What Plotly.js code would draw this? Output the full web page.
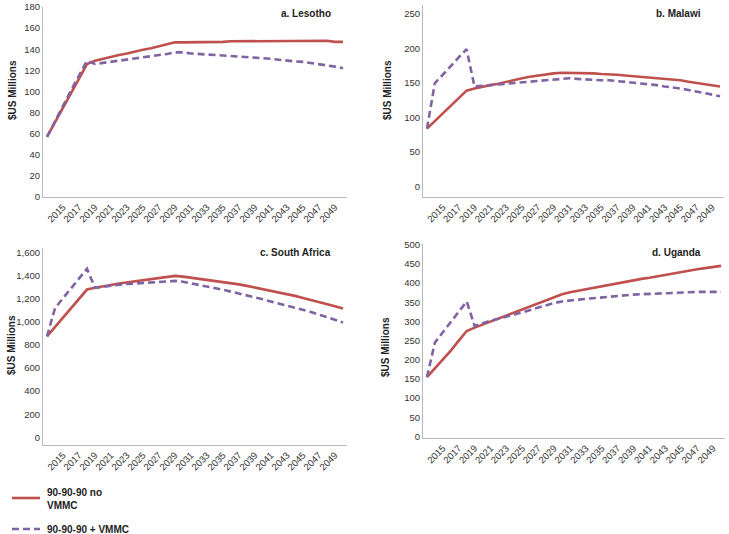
<!DOCTYPE html>
<html>
<head>
<meta charset="utf-8">
<script src="https://cdn.plot.ly/plotly-3.0.1.min.js"></script>
<style>
  html, body { margin: 0; padding: 0; background: #fff; }
  #plot { width: 729px; height: 534px; }
</style>
</head>
<body>
<div id="plot"></div>
<script>
// Years on the category axis
var years = [2013, 2014, 2015, 2016, 2017, 2018, 2019, 2020, 2021, 2022,
  2023, 2024, 2025, 2026, 2027, 2028, 2029, 2030, 2031, 2032,
  2033, 2034, 2035, 2036, 2037, 2038, 2039, 2040, 2041, 2042,
  2043, 2044, 2045, 2046, 2047, 2048, 2049, 2050];
var tickYears = [2015, 2017, 2019, 2021, 2023, 2025, 2027, 2029, 2031, 2033,
  2035, 2037, 2039, 2041, 2043, 2045, 2047, 2049];

var seriesNames = ["90-90-90 no<br>VMMC", "90-90-90 + VMMC"];

// a. Lesotho
var lesothoNo = [57, 71, 85, 99, 113, 126, 129, 131, 133, 134.5,
  136, 138, 139.5, 141, 143, 144.5, 146.5, 146.5, 146.5, 147,
  147, 147, 147, 147.5, 147.5, 147.5, 147.5, 147.5, 148, 148,
  148, 148, 148, 148, 148, 148, 147, 147];
var lesothoVmmc = [57, 72, 87, 101, 115, 129, 126, 127, 128, 129,
  130, 131, 132, 133, 134.5, 135.5, 137, 137, 136, 135.5,
  135.5, 135, 134.5, 134, 133.5, 133, 132.5, 132, 131, 130,
  129, 128.5, 128, 127, 126, 125, 123.5, 122];

// b. Malawi
var malawiNo = [84, 95, 107, 118, 129, 139, 142, 145, 147, 149,
  152, 154, 157, 159, 161, 163, 164, 165, 165, 164,
  164, 164, 163, 163, 162, 161, 160, 160, 159, 157,
  156, 155, 154, 152, 150, 148, 146, 145];
var malawiVmmc = [84, 150, 162, 175, 187, 199, 145, 146, 147, 148,
  149, 151, 152, 153, 154, 155, 156, 157, 157, 156,
  155, 155, 154, 154, 153, 152, 151, 150, 148, 147,
  145, 144, 142, 140, 138, 136, 134, 131];

// c. South Africa
var southAfricaNo = [875, 957, 1040, 1120, 1200, 1280, 1295, 1310, 1320, 1332,
  1342, 1350, 1360, 1370, 1380, 1390, 1398, 1392, 1383, 1375,
  1365, 1355, 1345, 1335, 1325, 1312, 1298, 1285, 1270, 1255,
  1240, 1225, 1207, 1190, 1172, 1155, 1135, 1115];
var southAfricaVmmc = [875, 1118, 1205, 1290, 1375, 1460, 1295, 1305, 1315, 1322,
  1328, 1332, 1336, 1340, 1345, 1350, 1355, 1348, 1335, 1320,
  1305, 1292, 1278, 1262, 1247, 1230, 1212, 1195, 1177, 1160,
  1143, 1125, 1107, 1085, 1063, 1040, 1018, 995];

// d. Uganda
var ugandaNo = [155, 178, 200, 224, 250, 275, 284, 292, 300, 307,
  314, 322, 331, 339, 347, 355, 364, 371, 376, 380,
  384, 388, 392, 396, 400, 404, 408, 411, 414, 418,
  422, 426, 429, 433, 436, 439, 442, 445];
var ugandaVmmc = [155, 245, 272, 298, 325, 352, 288, 296, 302, 307,
  312, 318, 324, 330, 336, 342, 348, 352, 355, 357,
  359, 361, 363, 365, 367, 368, 370, 371, 372, 373,
  374, 375, 376, 376, 377, 377, 377, 377];

var panels = [
  { title: "a. Lesotho", no: lesothoNo, vmmc: lesothoVmmc },
  { title: "b. Malawi", no: malawiNo, vmmc: malawiVmmc },
  { title: "c. South Africa", no: southAfricaNo, vmmc: southAfricaVmmc },
  { title: "d. Uganda", no: ugandaNo, vmmc: ugandaVmmc }
];

var W = 729, H = 534;
function px(x) { return x / W; }
function py(y) { return 1 - y / H; }

var red = "#c0504d";
var purple = "#8064a2";
var dashStyle = "7px,4px";

var data = [];
panels.forEach(function (p, i) {
  var sfx = i === 0 ? "" : String(i + 1);
  data.push({
    x: years, y: p.no, type: "scatter", mode: "lines",
    name: seriesNames[0], showlegend: false,
    xaxis: "x" + sfx, yaxis: "y" + sfx,
    line: { color: red, width: 2.6 }
  });
  data.push({
    x: years, y: p.vmmc, type: "scatter", mode: "lines",
    name: seriesNames[1], showlegend: false,
    xaxis: "x" + sfx, yaxis: "y" + sfx,
    line: { color: purple, width: 2.6, dash: dashStyle }
  });
});

var tickFont = { family: "Liberation Sans, Arial, sans-serif", size: 9.5, color: "#333" };

function xAxis(left, right, anchor) {
  return {
    domain: [px(left), px(right)],
    anchor: anchor,
    range: [2012.5, 2050.5],
    tickmode: "array", tickvals: tickYears,
    tickangle: -45, tickfont: tickFont,
    showgrid: false, zeroline: false,
    showline: true, linecolor: "#b8b8b8", linewidth: 1,
    ticks: "", fixedrange: true
  };
}
function yAxis(top, bottom, anchor, range, dtick, fmt) {
  return {
    domain: [py(bottom), py(top)],
    anchor: anchor,
    range: range, dtick: dtick, tick0: 0,
    tickformat: fmt, tickfont: tickFont,
    showgrid: false, zeroline: false,
    showline: true, linecolor: "#b8b8b8", linewidth: 1,
    ticks: "", fixedrange: true
  };
}

var titleFont = { family: "Liberation Sans, Arial, sans-serif", size: 10, color: "#222", weight: "bold" };

var annotations = [
  { text: "a. Lesotho", x: px(333), y: py(14), xanchor: "right" },
  { text: "b. Malawi", x: px(703), y: py(14), xanchor: "right" },
  { text: "c. South Africa", x: px(333), y: py(253), xanchor: "right" },
  { text: "d. Uganda", x: px(703), y: py(253), xanchor: "right" },
  { text: "$US Millions", x: px(13), y: py(90), textangle: -90 },
  { text: "$US Millions", x: px(388), y: py(90), textangle: -90 },
  { text: "$US Millions", x: px(11), y: py(345), textangle: -90 },
  { text: "$US Millions", x: px(385), y: py(347), textangle: -90 },
  // legend labels
  { text: seriesNames[0], x: px(45), y: py(499), xanchor: "left", align: "left" },
  { text: seriesNames[1], x: px(45), y: py(529), xanchor: "left", align: "left" }
].map(function (a) {
  a.xref = "paper"; a.yref = "paper"; a.showarrow = false;
  a.xanchor = a.xanchor || "center";
  a.yanchor = "middle";
  a.font = titleFont;
  return a;
});

// legend line samples
var shapes = [
  { type: "line", xref: "paper", yref: "paper", x0: px(12), x1: px(40), y0: py(498), y1: py(498),
    line: { color: red, width: 2.6 } },
  { type: "line", xref: "paper", yref: "paper", x0: px(12), x1: px(40), y0: py(529), y1: py(529),
    line: { color: purple, width: 2.6, dash: dashStyle } }
];

var layout = {
  width: W, height: H,
  margin: { l: 0, r: 0, t: 0, b: 0 },
  paper_bgcolor: "#fff", plot_bgcolor: "#fff",
  font: { family: "Liberation Sans, Arial, sans-serif" },
  xaxis: xAxis(43, 347, "y"),
  yaxis: yAxis(7, 197, "x", [0, 180], 20, "d"),
  xaxis2: xAxis(423, 724, "y2"),
  yaxis2: yAxis(5, 197, "x2", [-15, 263], 50, "d"),
  xaxis3: xAxis(43, 347, "y3"),
  yaxis3: yAxis(248, 445, "x3", [-67, 1640], 200, ",d"),
  xaxis4: xAxis(423, 725, "y4"),
  yaxis4: yAxis(244, 438, "x4", [-4, 502], 50, "d"),
  showlegend: false,
  annotations: annotations,
  shapes: shapes
};

Plotly.newPlot("plot", data, layout, { displayModeBar: false, staticPlot: true });
</script>
</body>
</html>
